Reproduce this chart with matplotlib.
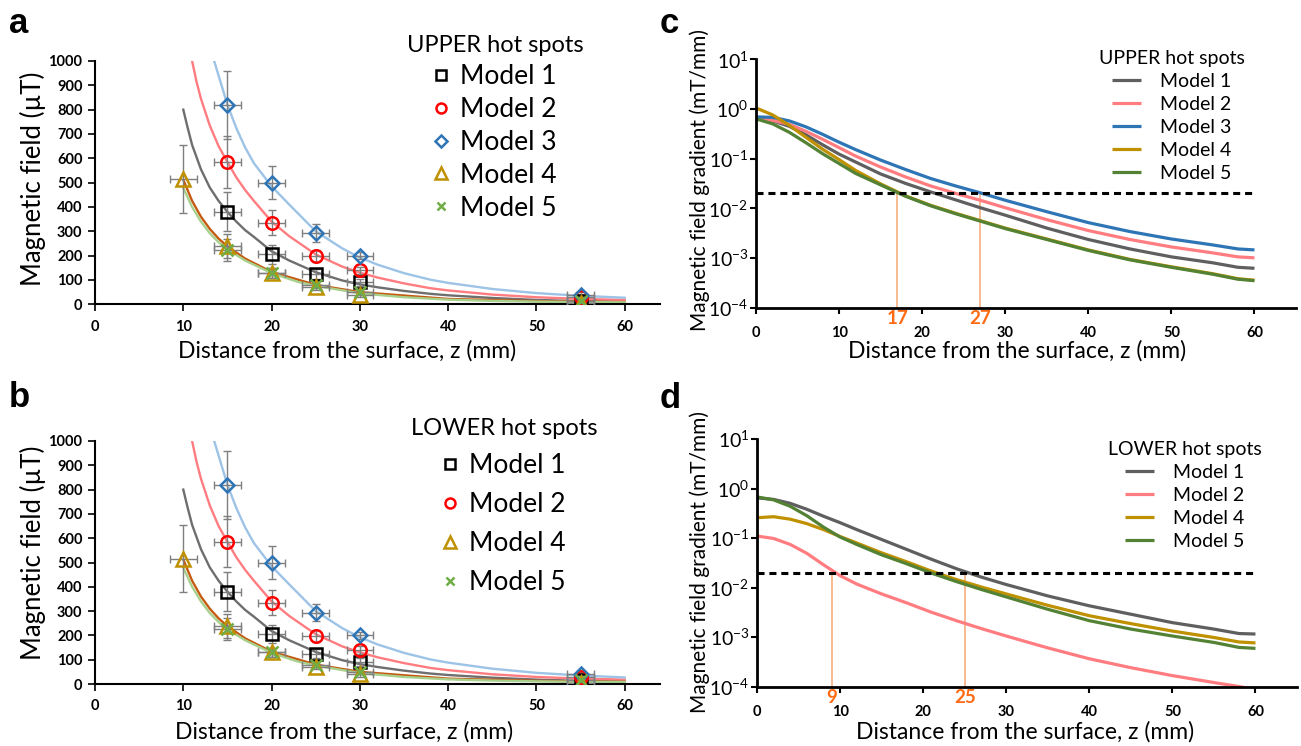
import matplotlib

matplotlib.use("Agg")
import matplotlib.pyplot as plt
import numpy as np
from matplotlib.ticker import NullLocator

plt.rcParams["font.family"] = ["Lato", "DejaVu Sans"]
plt.rcParams["mathtext.default"] = "regular"

MODELS = ["Model 1", "Model 2", "Model 3", "Model 4", "Model 5"]

# measured field (uT) vs distance (mm), panels a and b show the same points
m1_z = [15, 20, 25, 30, 55]
m1_b = [380, 205, 125, 90, 15]
m1_err = [80, 38, 20, 15, 8]
m2_z = [15, 20, 25, 30, 55]
m2_b = [585, 335, 197, 140, 30]
m2_err = [105, 52, 25, 15, 8]
m3_z = [15, 20, 25, 30, 55]
m3_b = [820, 500, 293, 200, 40]
m3_err = [140, 68, 35, 15, 10]
m4_z = [10, 15, 20, 25, 30, 55]
m4_b = [515, 240, 130, 72, 40, 5]
m4_err = [138, 50, 20, 12, 10, 5]
m5_z = [15, 20, 25, 30, 55]
m5_b = [225, 130, 80, 50, 15]
m5_err = [45, 20, 12, 10, 5]
Z_ERR = 1.5

# fitted curves
fit1_z = [10, 10.5, 11, 12, 13, 14, 15, 16, 17, 18, 20, 22, 25, 28, 30, 32, 35, 38, 40, 45, 50, 55, 60]
fit1_b = [800, 725, 655, 555, 480, 425, 380, 340, 305, 277, 218, 180, 132, 98, 82, 70, 55, 43, 37, 26, 18, 13, 10]
fit2_z = [11, 11.5, 12, 13, 14, 15, 16, 17, 18, 20, 22, 25, 28, 30, 32, 35, 38, 40, 45, 50, 55, 60]
fit2_b = [1000, 915, 845, 735, 650, 585, 522, 470, 425, 340, 280, 205, 155, 130, 110, 86, 66, 57, 40, 29, 22, 18]
fit3_z = [13.5, 14, 15, 16, 17, 18, 20, 22, 25, 28, 30, 32, 35, 38, 40, 45, 50, 55, 60]
fit3_b = [1000, 940, 820, 725, 645, 580, 485, 410, 300, 230, 192, 163, 128, 101, 88, 63, 46, 35, 27]
fit4_z = [10, 11, 12, 13, 14, 15, 17, 20, 25, 30, 40, 50, 60]
fit4_b = [512, 425, 360, 310, 270, 238, 188, 133, 80, 50, 22, 13, 9]
fit5_z = [10, 11, 12, 13, 14, 15, 17, 20, 23, 25, 30, 35, 40, 45, 50, 55, 60]
fit5_b = [478, 400, 340, 292, 255, 225, 180, 128, 92, 76, 45, 29, 19, 14, 11, 9, 8]

grad_z = [0, 2, 4, 6, 8, 10, 12, 15, 18, 21, 24, 27, 30, 35, 40, 45, 50, 55, 58, 60]
up_m1 = [-0.19, -0.24, -0.35, -0.52, -0.72, -0.91, -1.07, -1.31, -1.50, -1.67, -1.83, -1.99, -2.14, -2.40, -2.63, -2.82, -2.98, -3.10, -3.19, -3.21]
up_m2 = [-0.21, -0.23, -0.31, -0.45, -0.61, -0.78, -0.95, -1.17, -1.37, -1.55, -1.70, -1.84, -1.99, -2.23, -2.45, -2.63, -2.78, -2.90, -2.98, -3.00]
up_m3 = [-0.16, -0.17, -0.24, -0.36, -0.51, -0.67, -0.82, -1.03, -1.22, -1.40, -1.55, -1.69, -1.84, -2.07, -2.29, -2.47, -2.62, -2.74, -2.82, -2.84]
up_m4 = [0.02, -0.12, -0.33, -0.57, -0.81, -1.02, -1.24, -1.51, -1.75, -1.94, -2.10, -2.25, -2.40, -2.62, -2.84, -3.03, -3.18, -3.32, -3.42, -3.45]
up_m5 = [-0.20, -0.30, -0.47, -0.68, -0.90, -1.10, -1.30, -1.53, -1.76, -1.95, -2.11, -2.26, -2.41, -2.63, -2.85, -3.04, -3.19, -3.33, -3.43, -3.46]
low_m1 = [-0.19, -0.22, -0.30, -0.42, -0.56, -0.69, -0.83, -1.03, -1.23, -1.43, -1.62, -1.79, -1.94, -2.17, -2.37, -2.54, -2.71, -2.84, -2.93, -2.94]
low_m2 = [-0.96, -1.01, -1.13, -1.31, -1.54, -1.76, -1.93, -2.13, -2.31, -2.50, -2.67, -2.83, -2.98, -3.22, -3.44, -3.62, -3.78, -3.92, -4.00, -4.06]
low_m4 = [-0.59, -0.57, -0.62, -0.71, -0.83, -0.97, -1.10, -1.30, -1.48, -1.67, -1.84, -1.99, -2.13, -2.36, -2.57, -2.73, -2.88, -3.01, -3.10, -3.12]
low_m5 = [-0.17, -0.23, -0.36, -0.55, -0.78, -0.98, -1.13, -1.34, -1.52, -1.71, -1.88, -2.04, -2.19, -2.44, -2.67, -2.84, -2.98, -3.11, -3.21, -3.23]
THRESHOLD = 0.02
THRESH_END = 60
up_cross = [17, 27]
low_cross = [9, 25]

MARKER_COLORS = ["black", "#FF0000", "#2E75B6", "#BF9000", "#70AD47"]
FIT_COLORS = ["#6E6E6E", "#FF7C80", "#9DC3E6", "#C55A11", "#A9D18E"]
GRAD_COLORS = {"Model 1": "#5F5F5F", "Model 2": "#FF7C80", "Model 3": "#2E75B6",
               "Model 4": "#BF9000", "Model 5": "#548235"}
MARKERS = [("s", 9), ("o", 9), ("D", 7.5), ("^", 10), ("x", 8)]

W, H = 1301, 746


def fig_box(left, top, right, bottom):
    return [left / W, 1 - bottom / H, (right - left) / W, (bottom - top) / H]


def style_spines(ax, lw):
    for side in ["top", "right"]:
        ax.spines[side].set_visible(False)
    for side in ["left", "bottom"]:
        ax.spines[side].set_linewidth(lw)


def field_panel(fig, box, title, legend_models, legend_anchor, labelspacing, ylab_pos, xlab_pos):
    ax = fig.add_axes(box)
    points = [(m1_z, m1_b, m1_err), (m2_z, m2_b, m2_err), (m3_z, m3_b, m3_err),
              (m4_z, m4_b, m4_err), (m5_z, m5_b, m5_err)]
    fits = [(fit1_z, fit1_b), (fit2_z, fit2_b), (fit3_z, fit3_b), (fit4_z, fit4_b), (fit5_z, fit5_b)]
    for (fz, fb), color in zip(fits, FIT_COLORS):
        ax.plot(fz, fb, color=color, lw=1.7, zorder=2)
    handles = {}
    for name, (z, b, err), color, (mk, ms) in zip(MODELS, points, MARKER_COLORS, MARKERS):
        ax.errorbar(z, b, xerr=Z_ERR, yerr=err, fmt="none", ecolor="#7F7F7F",
                    elinewidth=1.0, capsize=3, capthick=1.0, zorder=3)
        (h,) = ax.plot(z, b, linestyle="none", marker=mk, markersize=ms, markerfacecolor="none",
                       markeredgecolor=color, markeredgewidth=1.8, zorder=4)
        handles[name] = h
    ax.set_xlim(0, 64)
    ax.set_ylim(0, 1000)
    ax.set_xticks(range(0, 61, 10))
    ax.set_yticks(range(0, 1001, 100))
    style_spines(ax, 1.5)
    ax.tick_params(direction="out", length=5, width=1.2, labelsize=10.5, pad=4)
    ax.tick_params(axis="x", pad=6)
    for lbl in ax.get_xticklabels() + ax.get_yticklabels():
        lbl.set_fontweight("bold")
    ax.set_ylabel("Magnetic field (\u00b5T)", fontsize=18.5)
    ax.set_xlabel("Distance from the surface, z (mm)", fontsize=16.5)
    ax.yaxis.set_label_coords(*ylab_pos)
    ax.xaxis.set_label_coords(*xlab_pos)
    ax.legend([handles[m] for m in legend_models], legend_models, title=title,
              loc="upper center", bbox_to_anchor=legend_anchor, bbox_transform=fig.transFigure,
              frameon=False, fontsize=19, title_fontsize=17, handlelength=0.55,
              handletextpad=0.45, labelspacing=labelspacing, borderpad=0, borderaxespad=0,
              markerscale=0.8)
    return ax


def gradient_panel(fig, box, title, series, cross, legend_anchor, ylab_pos, xlab_pos):
    ax = fig.add_axes(box)
    for name, logs in series:
        ax.plot(grad_z, np.power(10.0, logs), color=GRAD_COLORS[name], lw=2.3, label=name,
                solid_capstyle="butt")
    ax.plot([0, THRESH_END], [THRESHOLD, THRESHOLD], color="black", lw=2.2, ls=(0, (2.3, 1.6)))
    ax.vlines(cross, 1e-4, THRESHOLD, color="#F5A873", lw=1.1, zorder=1)
    for x in cross:
        ax.annotate(str(x), xy=(x, 1e-4), xytext=(0, -1.5), textcoords="offset points",
                    ha="center", va="top", color="#FF6A13", fontsize=13.5, fontweight="bold",
                    annotation_clip=False)
    ax.set_yscale("log")
    ax.set_xlim(0, 65)
    ax.set_ylim(1e-4, 10)
    ax.set_xticks(range(0, 61, 10))
    ax.set_yticks([1e-4, 1e-3, 1e-2, 1e-1, 1e0, 1e1])
    ax.yaxis.set_minor_locator(NullLocator())
    style_spines(ax, 2.0)
    ax.tick_params(axis="x", direction="out", length=4, width=1.5, labelsize=10.5, pad=9)
    ax.tick_params(axis="y", direction="out", length=4, width=1.5, labelsize=14, pad=1.5)
    for lbl in ax.get_xticklabels():
        lbl.set_fontweight("bold")
    ax.set_ylabel("Magnetic field gradient (mT/mm)", fontsize=15)
    ax.set_xlabel("Distance from the surface, z (mm)", fontsize=16.5)
    ax.yaxis.set_label_coords(*ylab_pos)
    ax.xaxis.set_label_coords(*xlab_pos)
    ax.legend(title=title, loc="upper center", bbox_to_anchor=legend_anchor,
              bbox_transform=fig.transFigure, frameon=False, fontsize=14, title_fontsize=14,
              handlelength=1.45, handletextpad=1.0, labelspacing=0.31, borderpad=0,
              borderaxespad=0)
    return ax


fig = plt.figure(figsize=(W / 100, H / 100), dpi=100)

field_panel(fig, fig_box(95, 61, 660, 304.3), "UPPER hot spots", MODELS,
            (495 / W, 1 - 35 / H), 0.3, (-0.087, 0.517), (0.446, -0.147))
field_panel(fig, fig_box(95, 441, 660, 684), "LOWER hot spots",
            ["Model 1", "Model 2", "Model 4", "Model 5"],
            (504 / W, 1 - 418 / H), 0.53, (-0.087, 0.54), (0.44, -0.152))

gradient_panel(fig, fig_box(756, 59.3, 1296, 307.5), "UPPER hot spots",
               [("Model 1", up_m1), ("Model 2", up_m2), ("Model 3", up_m3),
                ("Model 4", up_m4), ("Model 5", up_m5)],
               up_cross, (1172 / W, 1 - 50 / H), (-0.085, 0.514), (0.483, -0.131))
gradient_panel(fig, fig_box(757, 439, 1297, 686.5), "LOWER hot spots",
               [("Model 1", low_m1), ("Model 2", low_m2), ("Model 4", low_m4), ("Model 5", low_m5)],
               low_cross, (1185 / W, 1 - 441 / H), (-0.087, 0.505), (0.496, -0.139))

for letter, x, y in [("a", 9, 33), ("b", 9, 407), ("c", 660, 33), ("d", 660, 408)]:
    fig.text(x / W, 1 - y / H, letter, fontsize=25, fontweight="bold", family="Liberation Sans",
             va="baseline", ha="left")

fig.savefig("out.png", dpi=100)
